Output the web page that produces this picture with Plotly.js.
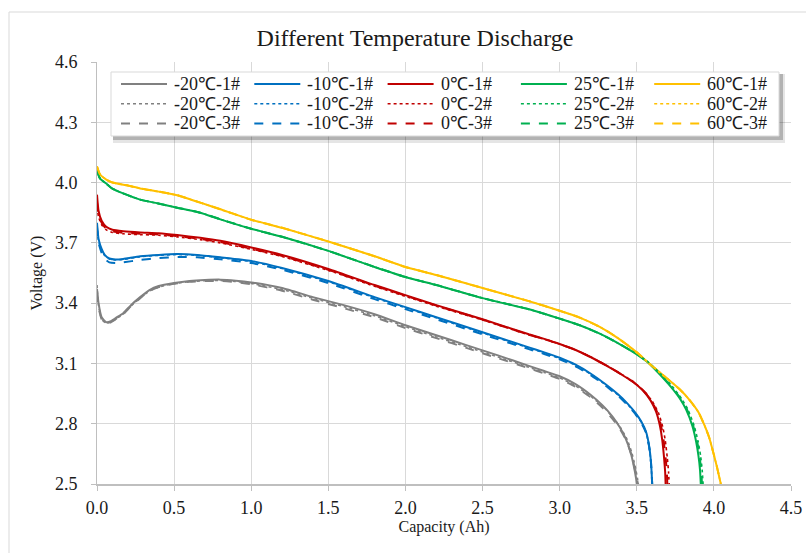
<!DOCTYPE html>
<html>
<head>
<meta charset="utf-8">
<script src="https://cdn.plot.ly/plotly-3.0.1.min.js"></script>
<style>
html,body{margin:0;padding:0;background:#fff;}
#chart{width:806px;height:553px;}
</style>
</head>
<body>
<div id="chart"></div>
<script>
// ---------------- DATA ----------------
const seriesNames = [
  "-20\u2103-1#", "-10\u2103-1#", "0\u2103-1#", "25\u2103-1#", "60\u2103-1#",
  "-20\u2103-2#", "-10\u2103-2#", "0\u2103-2#", "25\u2103-2#", "60\u2103-2#",
  "-20\u2103-3#", "-10\u2103-3#", "0\u2103-3#", "25\u2103-3#", "60\u2103-3#"
];
const xTicks = [0, 0.5, 1.0, 1.5, 2.0, 2.5, 3.0, 3.5, 4.0, 4.5];
const yTicks = [2.5, 2.8, 3.1, 3.4, 3.7, 4.0, 4.3, 4.6];

// -20 C
const capM20_1 = [0, 0.01, 0.03, 0.06, 0.09, 0.13, 0.17, 0.22, 0.28, 0.34, 0.40, 0.50, 0.60, 0.70, 0.80, 0.90, 1.00, 1.20, 1.40, 1.60, 1.80, 2.00, 2.20, 2.40, 2.60, 2.80, 2.90, 3.00, 3.10, 3.20, 3.28, 3.34, 3.39, 3.43, 3.46, 3.48, 3.495, 3.50];
const vM20_1   = [3.47, 3.40, 3.33, 3.305, 3.31, 3.33, 3.35, 3.39, 3.43, 3.465, 3.485, 3.50, 3.51, 3.515, 3.517, 3.512, 3.503, 3.475, 3.43, 3.39, 3.345, 3.29, 3.24, 3.19, 3.14, 3.088, 3.062, 3.036, 2.998, 2.944, 2.89, 2.838, 2.782, 2.722, 2.657, 2.592, 2.53, 2.50];
const capM20_2 = [0, 0.01, 0.03, 0.06, 0.09, 0.13, 0.17, 0.22, 0.28, 0.34, 0.40, 0.50, 0.60, 0.70, 0.80, 0.90, 1.00, 1.20, 1.40, 1.60, 1.80, 2.00, 2.20, 2.40, 2.60, 2.80, 2.90, 3.00, 3.10, 3.20, 3.285, 3.345, 3.397, 3.438, 3.468, 3.489, 3.504, 3.51];
const vM20_2   = [3.49, 3.39, 3.32, 3.30, 3.305, 3.325, 3.345, 3.385, 3.425, 3.46, 3.48, 3.497, 3.507, 3.512, 3.513, 3.508, 3.498, 3.468, 3.424, 3.383, 3.337, 3.283, 3.232, 3.182, 3.132, 3.081, 3.055, 3.028, 2.99, 2.937, 2.883, 2.832, 2.778, 2.72, 2.655, 2.59, 2.53, 2.50];
const capM20_3 = [0, 0.01, 0.03, 0.06, 0.09, 0.13, 0.17, 0.22, 0.28, 0.34, 0.40, 0.50, 0.60, 0.70, 0.80, 0.90, 1.00, 1.20, 1.40, 1.60, 1.80, 2.00, 2.20, 2.40, 2.60, 2.80, 2.90, 3.00, 3.10, 3.20, 3.28, 3.34, 3.392, 3.433, 3.463, 3.484, 3.50, 3.508];
const vM20_3   = [3.45, 3.38, 3.32, 3.30, 3.305, 3.325, 3.345, 3.385, 3.425, 3.46, 3.48, 3.496, 3.506, 3.51, 3.511, 3.505, 3.494, 3.462, 3.417, 3.375, 3.330, 3.276, 3.226, 3.176, 3.126, 3.076, 3.05, 3.023, 2.985, 2.932, 2.878, 2.827, 2.772, 2.715, 2.65, 2.587, 2.527, 2.50];

// -10 C
const capM10_1 = [0, 0.01, 0.03, 0.05, 0.08, 0.12, 0.17, 0.28, 0.40, 0.52, 0.65, 0.80, 1.00, 1.20, 1.50, 1.80, 2.00, 2.20, 2.50, 2.80, 2.90, 3.00, 3.10, 3.20, 3.30, 3.38, 3.44, 3.49, 3.53, 3.56, 3.58, 3.592, 3.60];
const vM10_1   = [3.80, 3.72, 3.67, 3.64, 3.622, 3.617, 3.62, 3.633, 3.64, 3.644, 3.64, 3.628, 3.61, 3.575, 3.51, 3.43, 3.38, 3.33, 3.255, 3.18, 3.155, 3.128, 3.095, 3.05, 2.995, 2.945, 2.90, 2.855, 2.81, 2.76, 2.69, 2.61, 2.50];
const capM10_2 = [0, 0.01, 0.03, 0.05, 0.08, 0.12, 0.17, 0.28, 0.40, 0.52, 0.65, 0.80, 1.00, 1.20, 1.50, 1.80, 2.00, 2.20, 2.50, 2.80, 2.90, 3.00, 3.10, 3.20, 3.30, 3.38, 3.44, 3.49, 3.53, 3.56, 3.58, 3.592, 3.60];
const vM10_2   = [3.79, 3.71, 3.665, 3.637, 3.62, 3.615, 3.618, 3.631, 3.638, 3.642, 3.638, 3.626, 3.607, 3.572, 3.507, 3.427, 3.377, 3.327, 3.252, 3.177, 3.152, 3.125, 3.092, 3.047, 2.992, 2.942, 2.897, 2.852, 2.807, 2.757, 2.688, 2.608, 2.50];
const capM10_3 = [0, 0.01, 0.03, 0.05, 0.08, 0.12, 0.17, 0.28, 0.40, 0.52, 0.65, 0.80, 1.00, 1.20, 1.50, 1.80, 2.00, 2.20, 2.50, 2.80, 2.90, 3.00, 3.10, 3.20, 3.30, 3.38, 3.44, 3.49, 3.53, 3.56, 3.58, 3.592, 3.60];
const vM10_3   = [3.78, 3.70, 3.65, 3.62, 3.603, 3.60, 3.603, 3.615, 3.624, 3.63, 3.628, 3.618, 3.60, 3.566, 3.50, 3.42, 3.37, 3.32, 3.245, 3.171, 3.147, 3.12, 3.087, 3.042, 2.988, 2.938, 2.893, 2.849, 2.804, 2.755, 2.686, 2.607, 2.50];

// 0 C
const cap0_1 = [0, 0.01, 0.03, 0.06, 0.10, 0.17, 0.28, 0.40, 0.52, 0.67, 0.80, 1.00, 1.20, 1.50, 1.80, 2.00, 2.20, 2.50, 2.80, 2.90, 3.00, 3.10, 3.20, 3.30, 3.40, 3.48, 3.54, 3.59, 3.625, 3.65, 3.665, 3.677, 3.684, 3.687];
const v0_1   = [3.94, 3.86, 3.81, 3.78, 3.765, 3.758, 3.752, 3.748, 3.739, 3.725, 3.71, 3.677, 3.64, 3.57, 3.49, 3.44, 3.39, 3.32, 3.245, 3.222, 3.197, 3.168, 3.132, 3.09, 3.045, 3.005, 2.965, 2.915, 2.86, 2.79, 2.72, 2.63, 2.56, 2.50];
const cap0_2 = [0, 0.01, 0.03, 0.06, 0.10, 0.17, 0.28, 0.40, 0.52, 0.67, 0.80, 1.00, 1.20, 1.50, 1.80, 2.00, 2.20, 2.50, 2.80, 2.90, 3.00, 3.10, 3.20, 3.30, 3.40, 3.48, 3.545, 3.60, 3.64, 3.668, 3.685, 3.698, 3.706, 3.71];
const v0_2   = [3.88, 3.83, 3.79, 3.765, 3.752, 3.745, 3.741, 3.738, 3.73, 3.716, 3.70, 3.668, 3.632, 3.563, 3.484, 3.434, 3.385, 3.316, 3.242, 3.22, 3.196, 3.168, 3.133, 3.092, 3.047, 3.008, 2.965, 2.912, 2.855, 2.785, 2.715, 2.63, 2.56, 2.50];
const cap0_3 = [0, 0.01, 0.03, 0.06, 0.10, 0.17, 0.28, 0.40, 0.52, 0.67, 0.80, 1.00, 1.20, 1.50, 1.80, 2.00, 2.20, 2.50, 2.80, 2.90, 3.00, 3.10, 3.20, 3.30, 3.40, 3.48, 3.542, 3.595, 3.632, 3.658, 3.674, 3.687, 3.695, 3.698];
const v0_3   = [3.90, 3.84, 3.80, 3.77, 3.757, 3.75, 3.745, 3.742, 3.734, 3.72, 3.704, 3.671, 3.635, 3.566, 3.487, 3.437, 3.388, 3.318, 3.243, 3.221, 3.196, 3.168, 3.132, 3.091, 3.046, 3.006, 2.965, 2.914, 2.858, 2.788, 2.718, 2.63, 2.56, 2.50];

// 25 C
const cap25_1 = [0, 0.02, 0.06, 0.10, 0.17, 0.28, 0.39, 0.52, 0.67, 0.80, 1.00, 1.20, 1.50, 1.80, 2.00, 2.20, 2.50, 2.80, 2.90, 3.00, 3.13, 3.26, 3.38, 3.50, 3.58, 3.65, 3.72, 3.78, 3.82, 3.86, 3.885, 3.90, 3.91, 3.915];
const v25_1   = [4.06, 4.02, 3.995, 3.97, 3.946, 3.915, 3.897, 3.875, 3.85, 3.817, 3.77, 3.73, 3.66, 3.58, 3.53, 3.49, 3.425, 3.37, 3.347, 3.323, 3.29, 3.248, 3.20, 3.145, 3.10, 3.045, 2.985, 2.925, 2.87, 2.79, 2.71, 2.64, 2.57, 2.50];
const cap25_2 = [0, 0.02, 0.06, 0.10, 0.17, 0.28, 0.39, 0.52, 0.67, 0.80, 1.00, 1.20, 1.50, 1.80, 2.00, 2.20, 2.50, 2.80, 2.90, 3.00, 3.13, 3.26, 3.38, 3.50, 3.58, 3.655, 3.728, 3.79, 3.832, 3.872, 3.898, 3.914, 3.924, 3.93];
const v25_2   = [4.06, 4.02, 3.995, 3.97, 3.946, 3.915, 3.897, 3.875, 3.85, 3.817, 3.77, 3.73, 3.66, 3.58, 3.53, 3.49, 3.425, 3.37, 3.347, 3.323, 3.29, 3.248, 3.20, 3.147, 3.103, 3.048, 2.988, 2.925, 2.87, 2.79, 2.71, 2.64, 2.57, 2.50];
const cap25_3 = [0, 0.02, 0.06, 0.10, 0.17, 0.28, 0.39, 0.52, 0.67, 0.80, 1.00, 1.20, 1.50, 1.80, 2.00, 2.20, 2.50, 2.80, 2.90, 3.00, 3.13, 3.26, 3.38, 3.50, 3.58, 3.652, 3.724, 3.785, 3.826, 3.866, 3.892, 3.907, 3.917, 3.923];
const v25_3   = [4.06, 4.02, 3.995, 3.97, 3.946, 3.915, 3.897, 3.875, 3.85, 3.817, 3.77, 3.73, 3.66, 3.58, 3.53, 3.49, 3.425, 3.37, 3.347, 3.323, 3.29, 3.248, 3.20, 3.146, 3.101, 3.046, 2.986, 2.925, 2.87, 2.79, 2.71, 2.64, 2.57, 2.50];

// 60 C
const cap60_1 = [0, 0.02, 0.06, 0.10, 0.20, 0.28, 0.40, 0.52, 0.67, 0.80, 1.00, 1.20, 1.50, 1.80, 2.00, 2.20, 2.50, 2.80, 3.00, 3.13, 3.26, 3.38, 3.50, 3.58, 3.65, 3.72, 3.78, 3.84, 3.90, 3.94, 3.97, 4.00, 4.02, 4.045];
const v60_1   = [4.08, 4.04, 4.015, 4.00, 3.985, 3.971, 3.955, 3.937, 3.90, 3.867, 3.815, 3.775, 3.707, 3.633, 3.58, 3.54, 3.475, 3.41, 3.362, 3.328, 3.282, 3.225, 3.155, 3.10, 3.055, 3.01, 2.97, 2.92, 2.857, 2.79, 2.73, 2.645, 2.585, 2.50];
const cap60_2 = [0, 0.02, 0.06, 0.10, 0.20, 0.28, 0.40, 0.52, 0.67, 0.80, 1.00, 1.20, 1.50, 1.80, 2.00, 2.20, 2.50, 2.80, 3.00, 3.13, 3.26, 3.38, 3.50, 3.58, 3.65, 3.72, 3.78, 3.84, 3.90, 3.94, 3.97, 4.00, 4.02, 4.045];
const v60_2   = [4.08, 4.04, 4.015, 4.00, 3.985, 3.971, 3.955, 3.937, 3.90, 3.867, 3.815, 3.775, 3.707, 3.633, 3.58, 3.54, 3.475, 3.41, 3.362, 3.328, 3.282, 3.225, 3.155, 3.10, 3.055, 3.01, 2.97, 2.92, 2.857, 2.79, 2.73, 2.645, 2.585, 2.50];
const cap60_3 = [0, 0.02, 0.06, 0.10, 0.20, 0.28, 0.40, 0.52, 0.67, 0.80, 1.00, 1.20, 1.50, 1.80, 2.00, 2.20, 2.50, 2.80, 3.00, 3.13, 3.26, 3.38, 3.50, 3.58, 3.65, 3.72, 3.78, 3.84, 3.90, 3.94, 3.97, 4.00, 4.02, 4.045];
const v60_3   = [4.08, 4.04, 4.015, 4.00, 3.985, 3.971, 3.955, 3.937, 3.90, 3.867, 3.815, 3.775, 3.707, 3.633, 3.58, 3.54, 3.475, 3.41, 3.362, 3.328, 3.282, 3.225, 3.155, 3.10, 3.055, 3.01, 2.97, 2.92, 2.857, 2.79, 2.73, 2.645, 2.585, 2.50];

// ---------------- STYLE ----------------
const colors = ["#808080", "#0070C0", "#C00000", "#00B050", "#FFC000"];
const dashes = ["solid", "dot", "dash"];
const widths = [2, 1.6, 2];

const xs = [capM20_1, capM10_1, cap0_1, cap25_1, cap60_1,
            capM20_2, capM10_2, cap0_2, cap25_2, cap60_2,
            capM20_3, capM10_3, cap0_3, cap25_3, cap60_3];
const ys = [vM20_1, vM10_1, v0_1, v25_1, v60_1,
            vM20_2, vM10_2, v0_2, v25_2, v60_2,
            vM20_3, vM10_3, v0_3, v25_3, v60_3];

const traces = seriesNames.map((name, i) => {
  const col = i % 5, row = Math.floor(i / 5);
  return {
    type: "scatter", mode: "lines", name: name,
    x: xs[i], y: ys[i],
    line: {color: colors[col], dash: dashes[row], width: widths[row], shape: "spline", smoothing: 0.5},
    showlegend: false, hoverinfo: "x+y+name"
  };
});

// layout geometry (pixels)
const W = 806, Hh = 553;
const mL = 97, mR = 15, mT = 62, mB = 69;
const pw = W - mL - mR, ph = Hh - mT - mB;
const px = v => (v - mL) / pw;
const py = v => (Hh - mB - v) / ph;

const serif = "'Liberation Serif', 'Times New Roman', serif";
const shapes = [];
const annotations = [];

// outer chart frame
shapes.push({type: "rect", xref: "paper", yref: "paper", x0: px(9), x1: px(812), y0: py(560), y1: py(12),
  line: {color: "#d9d9d9", width: 1}, fillcolor: "rgba(0,0,0,0)", layer: "below"});

// legend box with shadow
const lgL = 111, lgR = 779, lgT = 72, lgB = 136;
shapes.push({type: "rect", xref: "paper", yref: "paper", x0: px(lgL + 2), x1: px(lgR + 6), y0: py(lgB + 7), y1: py(lgT + 2),
  line: {width: 0}, fillcolor: "rgba(0,0,0,0.10)", layer: "above"});
shapes.push({type: "rect", xref: "paper", yref: "paper", x0: px(lgL + 2), x1: px(lgR + 4), y0: py(lgB + 4), y1: py(lgT + 2),
  line: {width: 0}, fillcolor: "rgba(0,0,0,0.22)", layer: "above"});
shapes.push({type: "rect", xref: "paper", yref: "paper", x0: px(lgL), x1: px(lgR), y0: py(lgB), y1: py(lgT),
  line: {color: "#d9d9d9", width: 1}, fillcolor: "#ffffff", layer: "above"});

const colX0 = 121, colStep = 133.3, rowY0 = 84, rowStep = 19.7, sampleLen = 46;
seriesNames.forEach((name, i) => {
  const col = i % 5, row = Math.floor(i / 5);
  const x0 = colX0 + col * colStep;
  const y = rowY0 + row * rowStep;
  shapes.push({type: "line", xref: "paper", yref: "paper", x0: px(x0), x1: px(x0 + sampleLen), y0: py(y), y1: py(y),
    line: {color: colors[col], dash: dashes[row], width: widths[row]}, layer: "above"});
  annotations.push({xref: "paper", yref: "paper", x: px(x0 + sampleLen + 5), y: py(y), xanchor: "left", yanchor: "middle",
    text: name, showarrow: false, font: {family: serif, size: 18, color: "#1a1a1a"}});
});

const layout = {
  width: W, height: Hh,
  margin: {l: mL, r: mR, t: mT, b: mB, pad: 0},
  paper_bgcolor: "#ffffff", plot_bgcolor: "#ffffff",
  showlegend: false,
  title: {text: "Different Temperature Discharge", xref: "container", yref: "container",
    x: 415 / W, y: 1 - 38 / Hh, xanchor: "center", yanchor: "middle",
    font: {family: serif, size: 24, color: "#1a1a1a"}},
  xaxis: {range: [0, 4.5], tickvals: xTicks, tickformat: ".1f", showgrid: true, gridcolor: "#d9d9d9", gridwidth: 1,
    zeroline: false, showline: true, linecolor: "#bfbfbf", linewidth: 1.5, ticks: "outside", ticklen: 5, tickcolor: "#bfbfbf",
    tickfont: {family: serif, size: 18, color: "#1a1a1a"}, ticklabelstandoff: 2,
    title: {text: "Capacity (Ah)", font: {family: serif, size: 16, color: "#1a1a1a"}, standoff: 0}, automargin: false},
  yaxis: {range: [2.5, 4.6], tickvals: yTicks, tickformat: ".1f", showgrid: true, gridcolor: "#d9d9d9", gridwidth: 1,
    zeroline: false, showline: true, linecolor: "#bfbfbf", linewidth: 1, ticks: "outside", ticklen: 5, tickcolor: "#bfbfbf",
    tickfont: {family: serif, size: 18, color: "#1a1a1a"}, ticklabelstandoff: 10,
    title: {text: "Voltage (V)", font: {family: serif, size: 16, color: "#1a1a1a"}, standoff: 8}, automargin: false},
  shapes: shapes,
  annotations: annotations
};

Plotly.newPlot("chart", traces, layout, {displayModeBar: false, staticPlot: true});
</script>
</body>
</html>
